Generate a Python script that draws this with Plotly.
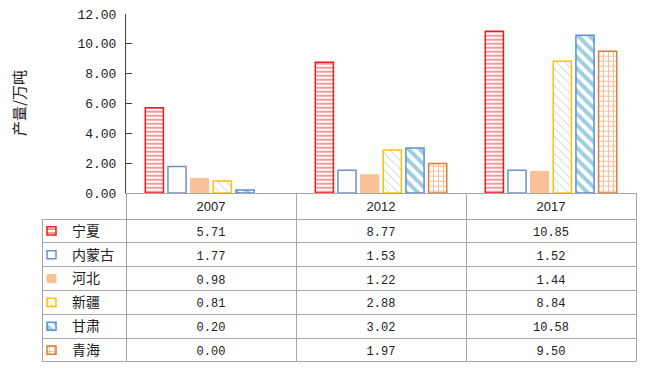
import plotly.graph_objects as go

years = ["2007", "2012", "2017"]
regions = ["宁夏", "内蒙古", "河北", "新疆", "甘肃", "青海"]
ningxia = [5.71, 8.77, 10.85]
neimenggu = [1.77, 1.53, 1.52]
hebei = [0.98, 1.22, 1.44]
xinjiang = [0.81, 2.88, 8.84]
gansu = [0.20, 3.02, 10.58]
qinghai = [0.00, 1.97, 9.50]
series = [ningxia, neimenggu, hebei, xinjiang, gansu, qinghai]
yticks = [0, 2, 4, 6, 8, 10, 12]

# page body has an 8px margin; figure is drawn at offset (8, 8)
OFF = 8
W, H = 650 - OFF, 386 - OFF
def px(x): return (x - OFF) / W
def py(y): return 1 - (y - OFF) / H

line_colors = ["#ee1c1c", "#6f8fc8", "#f8c198", "#ffc000", "#5b8fd0", "#e07a30"]
patterns = [
    dict(shape="-", fgcolor="#ee1c1c", size=4, solidity=0.45),
    None,
    None,
    dict(shape="\\", fgcolor="#9484b8", size=6, solidity=0.15),
    dict(shape="\\", fgcolor="#3a9cc3", size=8, solidity=0.5),
    dict(shape="+", fgcolor="#ed7d31", size=5, solidity=0.35),
]
fills = ["white", "white", "#f8c198", "white", "white", "white"]

def marker(i, vals=None):
    w = 1.5 if i != 2 else 1
    lw = w if vals is None else [0 if v == 0 else w for v in vals]
    m = dict(color=fills[i], line=dict(color=line_colors[i], width=lw))
    if patterns[i] is not None:
        m["pattern"] = patterns[i]
    return m

fig = go.Figure()
for i, (name, vals) in enumerate(zip(regions, series)):
    fig.add_trace(go.Bar(x=years, y=vals, name=name, marker=marker(i, vals),
                         showlegend=False, hoverinfo="skip"))

# legend keys in the table's label column
for i, name in enumerate(regions):
    fig.add_trace(go.Bar(y=[name], x=[9], base=[5], orientation="h", width=0.34,
                         marker=marker(i), xaxis="x2", yaxis="y2", showlegend=False,
                         hoverinfo="skip"))

# data table
num_font = "Liberation Mono"
fig.add_trace(go.Table(
    domain=dict(x=[px(42), px(636)], y=[py(362), py(193)]),
    columnwidth=[84, 170, 170, 170],
    header=dict(values=[""] + years,
                height=26,
                fill=dict(color="rgba(0,0,0,0)"),
                line=dict(color=["rgba(0,0,0,0)", "#a6a6a6", "#a6a6a6", "#a6a6a6"], width=1),
                align="center",
                font=dict(family="Liberation Sans", size=13, color="#222")),
    cells=dict(values=[[""] * len(regions)] +
                      [[f"{s[i]:.2f}" for s in series] for i in range(len(years))],
               height=23.8,
               fill=dict(color="rgba(0,0,0,0)"),
               line=dict(color="#a6a6a6", width=1),
               align="center",
               font=dict(family=num_font, size=12, color="#222")),
))

YMAX = 12.02
fig.update_layout(
    width=W, height=H,
    margin=dict(l=0, r=0, t=0, b=0, autoexpand=False),
    paper_bgcolor="white", plot_bgcolor="white",
    barmode="group", bargap=0.2, bargroupgap=0.2,
    xaxis=dict(domain=[px(126), px(636)], type="category", showticklabels=False,
               showline=True, linecolor="#a6a6a6", linewidth=1, ticks="",
               showgrid=False, zeroline=False, automargin=False),
    yaxis=dict(domain=[py(193), py(14 - 0.3)], range=[0, YMAX], tickvals=yticks,
               ticktext=[f"{v:.2f}" for v in yticks],
               showline=True, linecolor="#404040", linewidth=1,
               ticks="inside", ticklen=6, tickcolor="#404040",
               showgrid=False, zeroline=False, ticklabelstandoff=6, automargin=False,
               ticklabeloverflow="allow",
               tickfont=dict(family=num_font, size=13, color="#222")),
    xaxis2=dict(domain=[px(42), px(68)], range=[0, 26], visible=False,
                anchor="y2", fixedrange=True, automargin=False),
    yaxis2=dict(domain=[py(362), py(219)], anchor="x2", side="right",
                type="category", categoryorder="array", categoryarray=regions,
                autorange="reversed", showgrid=False, showline=False,
                zeroline=False, ticks="", ticklabelstandoff=3, automargin=False,
                tickfont=dict(family="Noto Sans CJK SC", size=14, color="#222")),
    annotations=[dict(text="产量/万吨", x=px(18), y=py(103), xref="paper", yref="paper",
                      xanchor="center", yanchor="middle",
                      textangle=-90, showarrow=False,
                      font=dict(family="Noto Sans CJK SC", size=15, color="#222"))],
)

fig.write_html("out.html")
